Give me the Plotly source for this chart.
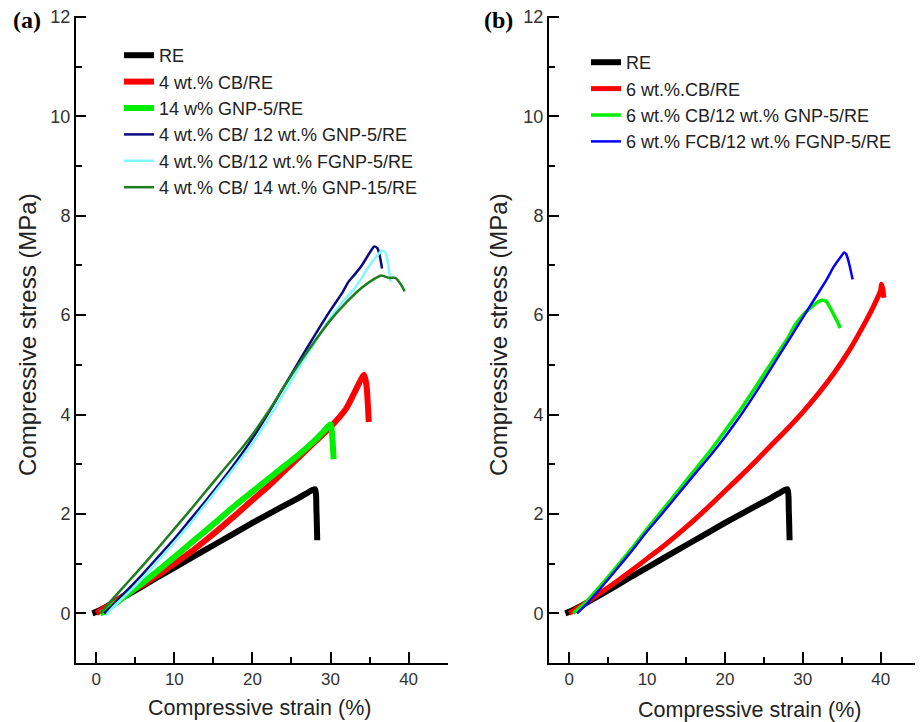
import plotly.graph_objects as go

# panel (a) data
re_x = [-0.5, 0, 2, 4, 6, 8, 10, 12, 14, 16, 18, 20, 22, 24, 26, 27, 28, 28.2, 28.3]
re_y = [0, 0.03, 0.19, 0.37, 0.55, 0.74, 0.92, 1.1, 1.28, 1.46, 1.64, 1.82, 1.99, 2.16, 2.33, 2.42, 2.5, 2.05, 1.47]

cb4_x = [0, 2, 4, 6, 8, 10, 12, 14, 16, 18, 20, 22, 24, 26, 28, 30, 32, 33, 34.3, 34.6, 34.9]
cb4_y = [0, 0.2, 0.4, 0.58, 0.78, 1.0, 1.22, 1.47, 1.73, 2.0, 2.28, 2.55, 2.85, 3.15, 3.45, 3.75, 4.12, 4.42, 4.8, 4.6, 3.85]

gnp14_x = [0.5, 1, 2, 4, 6, 8, 10, 12, 14, 16, 18, 20, 22, 24, 26, 28, 29, 30, 30.2, 30.4]
gnp14_y = [0, 0.03, 0.15, 0.38, 0.62, 0.87, 1.13, 1.4, 1.66, 1.93, 2.2, 2.45, 2.7, 2.95, 3.2, 3.48, 3.64, 3.8, 3.6, 3.1]

cb4gnp12_x = [1, 2, 4, 6, 8, 10, 12, 14, 16, 18, 20, 22, 24, 26, 28, 30, 31.5, 32.3, 33, 34, 35, 35.6, 36, 36.3, 36.6]
cb4gnp12_y = [0, 0.15, 0.47, 0.8, 1.15, 1.5, 1.88, 2.26, 2.65, 3.07, 3.52, 4.02, 4.55, 5.08, 5.6, 6.1, 6.45, 6.67, 6.8, 7.0, 7.25, 7.38, 7.35, 7.2, 6.94]

cb4fgnp12_x = [1.2, 2, 4, 6, 8, 10, 12, 14, 16, 18, 20, 22, 24, 26, 28, 30, 32, 33, 34, 35, 36, 36.6, 37, 37.3, 37.5, 37.7]
cb4fgnp12_y = [-0.05, 0.1, 0.4, 0.72, 1.07, 1.43, 1.8, 2.2, 2.6, 3.0, 3.42, 3.9, 4.42, 4.95, 5.45, 5.95, 6.35, 6.52, 6.75, 7.0, 7.2, 7.3, 7.27, 7.1, 6.9, 6.67]

cb4gnp15_x = [0.5, 2, 4, 6, 8, 10, 12, 14, 16, 18, 20, 22, 24, 26, 28, 30, 32, 34, 35.5, 36.5, 37.5, 38.3, 39, 39.5]
cb4gnp15_y = [0, 0.27, 0.62, 0.97, 1.33, 1.7, 2.07, 2.45, 2.83, 3.2, 3.6, 4.05, 4.55, 5.03, 5.48, 5.9, 6.25, 6.55, 6.72, 6.8, 6.75, 6.75, 6.62, 6.48]

# panel (b) data
cb6_x = [0, 2, 4, 6, 8, 10, 12, 14, 16, 18, 20, 22, 24, 26, 28, 30, 32, 34, 36, 38, 39, 40, 40.1, 40.3, 40.4]
cb6_y = [0, 0.2, 0.41, 0.63, 0.86, 1.1, 1.34, 1.6, 1.87, 2.16, 2.46, 2.76, 3.07, 3.39, 3.71, 4.05, 4.42, 4.83, 5.3, 5.85, 6.15, 6.5, 6.62, 6.5, 6.35]

cb6gnp12_x = [0.5, 2, 4, 6, 8, 10, 12, 14, 16, 18, 20, 22, 24, 26, 28, 29, 30, 31, 32, 32.5, 33, 33.5, 34, 34.5, 34.8]
cb6gnp12_y = [0, 0.2, 0.55, 0.92, 1.3, 1.7, 2.08, 2.47, 2.86, 3.25, 3.67, 4.1, 4.57, 5.05, 5.52, 5.8, 6.0, 6.15, 6.27, 6.3, 6.28, 6.15, 6.0, 5.85, 5.74]

fcb6fgnp12_x = [1, 2, 4, 6, 8, 10, 12, 14, 16, 18, 20, 22, 24, 26, 28, 30, 31, 32, 33, 34, 35, 35.3, 35.6, 36, 36.4]
fcb6fgnp12_y = [0, 0.15, 0.5, 0.87, 1.25, 1.65, 2.02, 2.4, 2.78, 3.15, 3.55, 3.98, 4.45, 4.95, 5.45, 5.95, 6.2, 6.45, 6.7, 6.98, 7.2, 7.26, 7.22, 7.0, 6.72]

y_ticks = [0, 2, 4, 6, 8, 10, 12]
x_ticks = [0, 10, 20, 30, 40]

FONT = "Liberation Sans, Arial, sans-serif"
SERIF = "Liberation Serif, Times New Roman, serif"

# page has an 8px body margin, so the figure is laid out 8px smaller
W, H = 915, 714

fig = go.Figure()

panel_a = [
    (re_x, re_y, "RE", "#000000", 6),
    (cb4_x, cb4_y, "4 wt.% CB/RE", "#ff0000", 6),
    (gnp14_x, gnp14_y, "14 w% GNP-5/RE", "#00ee00", 6),
    (cb4gnp12_x, cb4gnp12_y, "4 wt.% CB/ 12 wt.% GNP-5/RE", "#0a0a80", 2.5),
    (cb4fgnp12_x, cb4fgnp12_y, "4 wt.% CB/12 wt.% FGNP-5/RE", "#80f8ff", 2.5),
    (cb4gnp15_x, cb4gnp15_y, "4 wt.% CB/ 14 wt.% GNP-15/RE", "#1e7d1e", 2.5),
]
panel_b = [
    (re_x, re_y, "RE", "#000000", 6),
    (cb6_x, cb6_y, "6 wt.%.CB/RE", "#ff0000", 5),
    (cb6gnp12_x, cb6gnp12_y, "6 wt.% CB/12 wt.% GNP-5/RE", "#00ee00", 3.5),
    (fcb6fgnp12_x, fcb6fgnp12_y, "6 wt.% FCB/12 wt.% FGNP-5/RE", "#0000ff", 2.5),
]

for x, y, name, color, w in panel_a:
    fig.add_trace(go.Scatter(x=x, y=y, name=name, mode="lines",
                             line=dict(color=color, width=w, shape="spline", smoothing=0.6),
                             xaxis="x", yaxis="y", legend="legend"))
for x, y, name, color, w in panel_b:
    fig.add_trace(go.Scatter(x=x, y=y, name=name, mode="lines",
                             line=dict(color=color, width=w, shape="spline", smoothing=0.6),
                             xaxis="x2", yaxis="y2", legend="legend2"))

xaxis_style = dict(range=[-2.6, 45.05], tickvals=x_ticks, showline=True, linecolor="black",
                   linewidth=2, ticks="inside", ticklen=11, tickwidth=2, tickcolor="black",
                   minor=dict(dtick=5, tick0=0, ticks="inside", ticklen=6, tickwidth=2, tickcolor="black"),
                   showgrid=False, zeroline=False, automargin=False,
                   tickfont=dict(size=17, color="#333333", family=FONT))
yaxis_style = dict(range=[-1, 12.03], tickvals=y_ticks, showline=True, linecolor="black",
                   linewidth=2, ticks="inside", ticklen=10, tickwidth=2, tickcolor="black",
                   minor=dict(dtick=1, tick0=0, ticks="inside", ticklen=6, tickwidth=2, tickcolor="black"),
                   showgrid=False, zeroline=False, automargin=False, ticklabeloverflow="allow",
                   tickfont=dict(size=18, color="#333333", family=FONT))

legend_style = dict(bgcolor="rgba(0,0,0,0)", font=dict(size=18, color="#222222", family=FONT),
                    xanchor="left", yanchor="top", tracegroupgap=0, traceorder="normal")

y_dom = [59 / H, (H - 7.5) / H]

fig.update_layout(
    width=W, height=H,
    margin=dict(l=0, r=0, t=0, b=0, autoexpand=False),
    paper_bgcolor="white", plot_bgcolor="white",
    xaxis=dict(domain=[68 / W, 440 / W], anchor="y", **xaxis_style),
    yaxis=dict(domain=y_dom, anchor="x", **yaxis_style),
    xaxis2=dict(domain=[541 / W, 912 / W], anchor="y2", **xaxis_style),
    yaxis2=dict(domain=y_dom, anchor="x2", **yaxis_style),
    legend=dict(x=111 / W, y=(H - 29) / H, **legend_style),
    legend2=dict(x=578 / W, y=(H - 36) / H, **legend_style),
    showlegend=True,
)

annotations = [
    dict(text="<b>(a)</b>", x=19 / W, y=(H - 12) / H, font=dict(size=24, family=SERIF, color="black")),
    dict(text="<b>(b)</b>", x=491 / W, y=(H - 12) / H, font=dict(size=24, family=SERIF, color="black")),
    dict(text="Compressive stress (MPa)", x=19 / W, y=(H - 327) / H, textangle=-90, font=dict(size=24, family=FONT, color="#222222")),
    dict(text="Compressive stress (MPa)", x=490 / W, y=(H - 327) / H, textangle=-90, font=dict(size=24, family=FONT, color="#222222")),
    dict(text="Compressive strain (%)", x=251 / W, y=14 / H, font=dict(size=21.5, family=FONT, color="#222222")),
    dict(text="Compressive strain (%)", x=741 / W, y=12 / H, font=dict(size=21.5, family=FONT, color="#222222")),
]
for a in annotations:
    fig.add_annotation(xref="paper", yref="paper", showarrow=False, xanchor="center", yanchor="middle", **a)

fig.write_html("out.html")
